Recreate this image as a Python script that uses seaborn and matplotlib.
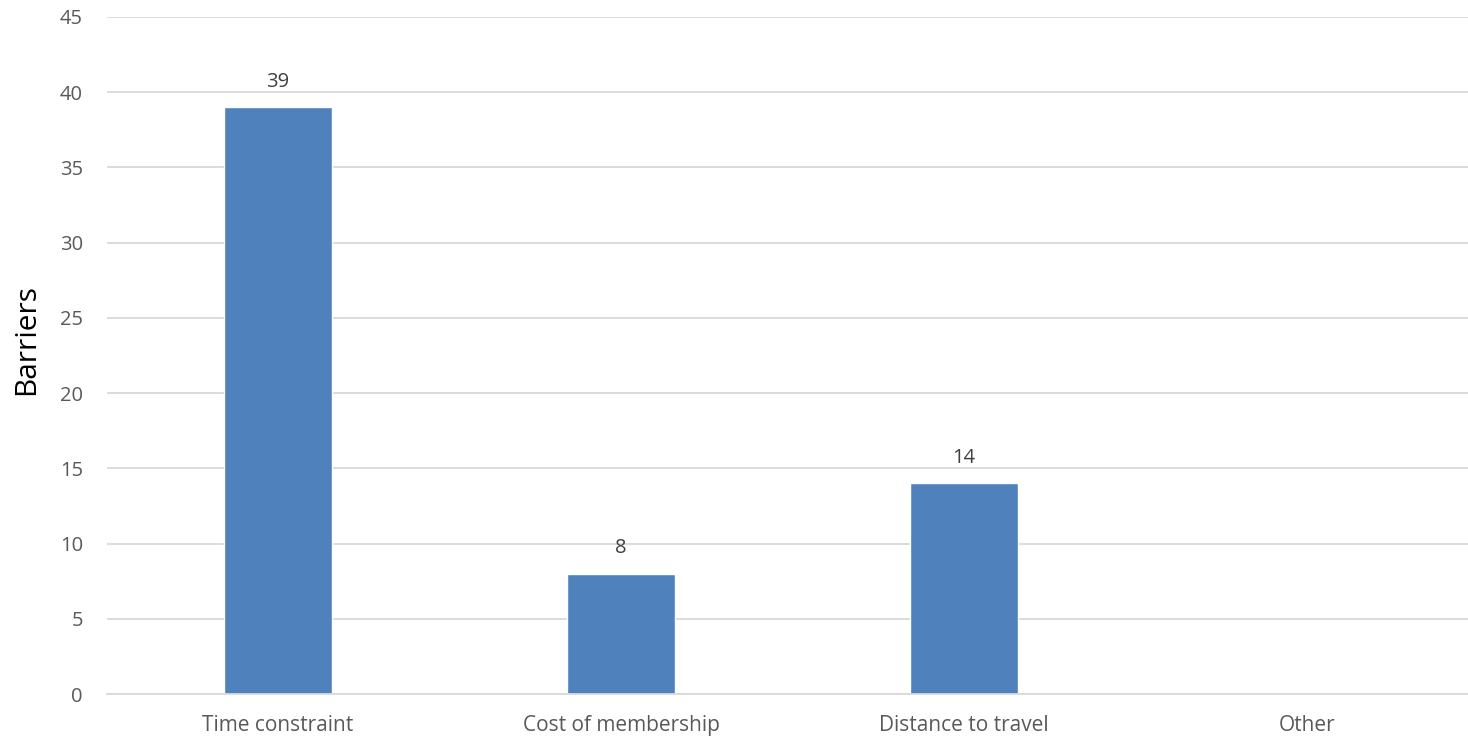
import numpy as np
import pandas as pd
import seaborn as sns
import matplotlib.pyplot as plt

# values
categories = ["Time constraint", "Cost of membership", "Distance to travel", "Other"]
counts = [39, 8, 14, np.nan]
y_ticks = [0, 5, 10, 15, 20, 25, 30, 35, 40, 45]

df = pd.DataFrame({"barrier": categories, "count": counts})

sns.set_theme(style="white")
plt.rcParams["font.family"] = ["Open Sans", "DejaVu Sans"]

fig = plt.figure(figsize=(14.68, 7.38), dpi=100)
ax = fig.add_axes([106.5 / 1468, 44 / 738, 1372 / 1468, 677 / 738])

sns.barplot(data=df, x="barrier", y="count", order=categories,
            color="#4F81BD", saturation=1, width=0.315, ax=ax)

for c in ax.containers:
    ax.bar_label(c, padding=11, fontsize=14.5, color="#404040")

ax.set_xlim(-0.5, 3.5)
ax.set_ylim(0, 45)
ax.set_yticks(y_ticks)
ax.yaxis.grid(True, color="#D9D9D9", linewidth=1.3)
ax.set_axisbelow(True)

for s in ["top", "right", "left"]:
    ax.spines[s].set_visible(False)
ax.spines["bottom"].set_color("#D9D9D9")
ax.spines["bottom"].set_linewidth(1.3)

ax.tick_params(axis="y", length=0, pad=17, labelsize=14.5, labelcolor="#595959")
ax.tick_params(axis="x", length=0, pad=15, labelsize=15, labelcolor="#595959")

ax.set_xlabel("")
ax.set_ylabel("Barriers", fontsize=21.5, color="black")
ax.yaxis.set_label_coords(-0.048, 0.523)

fig.savefig("out.png", dpi=100)
